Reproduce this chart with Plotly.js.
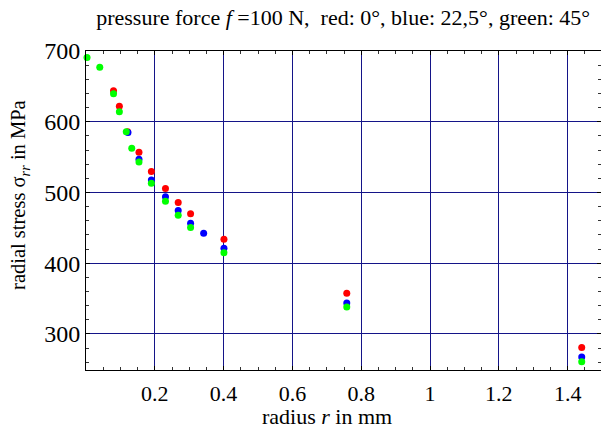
<!DOCTYPE html>
<html>
<head>
<meta charset="utf-8">
<script src="https://cdn.plot.ly/plotly-3.0.1.min.js"></script>
<style>html,body{margin:0;padding:0;background:#fff;}#chart{width:601px;height:432px;}</style>
</head>
<body>
<div id="chart"></div>
<script>
// red: 0 deg
var redX = [0.080, 0.097, 0.121, 0.154, 0.190, 0.231, 0.268, 0.304, 0.401, 0.758, 1.441];
var redY = [643.7, 622.0, 586.0, 557.0, 529.5, 505.5, 485.7, 470.0, 434.0, 357.5, 280.7];
// blue: 22.5 deg
var blueX = [0.122, 0.154, 0.190, 0.231, 0.268, 0.304, 0.342, 0.401, 0.758, 1.441];
var blueY = [584.7, 547.0, 517.5, 493.8, 474.4, 456.6, 442.4, 421.0, 343.8, 267.5];
// green: 45 deg
var greenX = [0.003, 0.040, 0.080, 0.097, 0.117, 0.133, 0.154, 0.190, 0.231, 0.268, 0.304, 0.401, 0.758, 1.441];
var greenY = [690.8, 677.2, 639.5, 614.0, 586.0, 562.6, 543.0, 513.0, 487.7, 467.8, 450.4, 414.6, 338.0, 260.8];

var xTickVals = [0.2, 0.4, 0.6, 0.8, 1, 1.2, 1.4];
var xTickText = ['0.2', '0.4', '0.6', '0.8', '1', '1.2', '1.4'];
var yTickVals = [300, 400, 500, 600, 700];

var titleText = 'pressure force <i>f</i> =100 N,&nbsp; red: 0°, blue: 22,5°, green: 45°';
var xTitle = 'radius <i>r</i> in mm';
var yTitle = 'radial stress σ<sub><i>rr</i></sub> in MPa';

function series(x, y, color) {
  return {x: x, y: y, type: 'scatter', mode: 'markers', cliponaxis: false,
          marker: {color: color, size: 7, line: {width: 0}}, hoverinfo: 'none'};
}
var data = [series(redX, redY, '#ff0000'), series(blueX, blueY, '#0000ff'), series(greenX, greenY, '#00ff00')];

var FAM = 'Liberation Serif, Times New Roman, serif';
var layout = {
  width: 601, height: 432,
  margin: {l: 86, r: 0, t: 51, b: 62},
  paper_bgcolor: '#fff', plot_bgcolor: '#fff',
  showlegend: false,
  font: {family: FAM, color: '#000', size: 20},
  title: {text: titleText, font: {family: FAM, size: 22, color: '#000'}, x: 0.571, xanchor: 'center', y: 0.961, yanchor: 'middle'},
  xaxis: {
    range: [0, 1.497], tickvals: xTickVals, ticktext: xTickText,
    showgrid: true, gridcolor: '#141488', gridwidth: 1, zeroline: false,
    showline: true, linecolor: '#000', linewidth: 1, mirror: 'allticks',
    ticks: 'inside', ticklen: 4, tickcolor: '#000', ticklabelstandoff: 4,
    minor: {dtick: 0.05, tick0: 0, ticks: 'inside', ticklen: 3, tickcolor: '#333', showgrid: false},
    tickfont: {family: FAM, size: 22, color: '#000'}
  },
  yaxis: {
    range: [249, 700], tickvals: yTickVals,
    showgrid: true, gridcolor: '#141488', gridwidth: 1, zeroline: false,
    showline: true, linecolor: '#000', linewidth: 1, mirror: 'allticks',
    ticks: 'inside', ticklen: 4, tickcolor: '#000',
    minor: {dtick: 20, tick0: 0, ticks: 'inside', ticklen: 3, tickcolor: '#333', showgrid: false},
    tickfont: {family: FAM, size: 24, color: '#000'}
  },
  annotations: [
    {text: xTitle, xref: 'paper', yref: 'paper', x: 0.468, y: -0.146, xanchor: 'center', yanchor: 'middle',
     showarrow: false, font: {family: FAM, size: 22, color: '#000'}},
    {text: yTitle, xref: 'paper', yref: 'paper', x: -0.128, y: 0.549, xanchor: 'center', yanchor: 'middle',
     textangle: -90, showarrow: false, font: {family: FAM, size: 20.5, color: '#000'}}
  ]
};
Plotly.newPlot('chart', data, layout, {staticPlot: true, displayModeBar: false});
</script>
</body>
</html>
